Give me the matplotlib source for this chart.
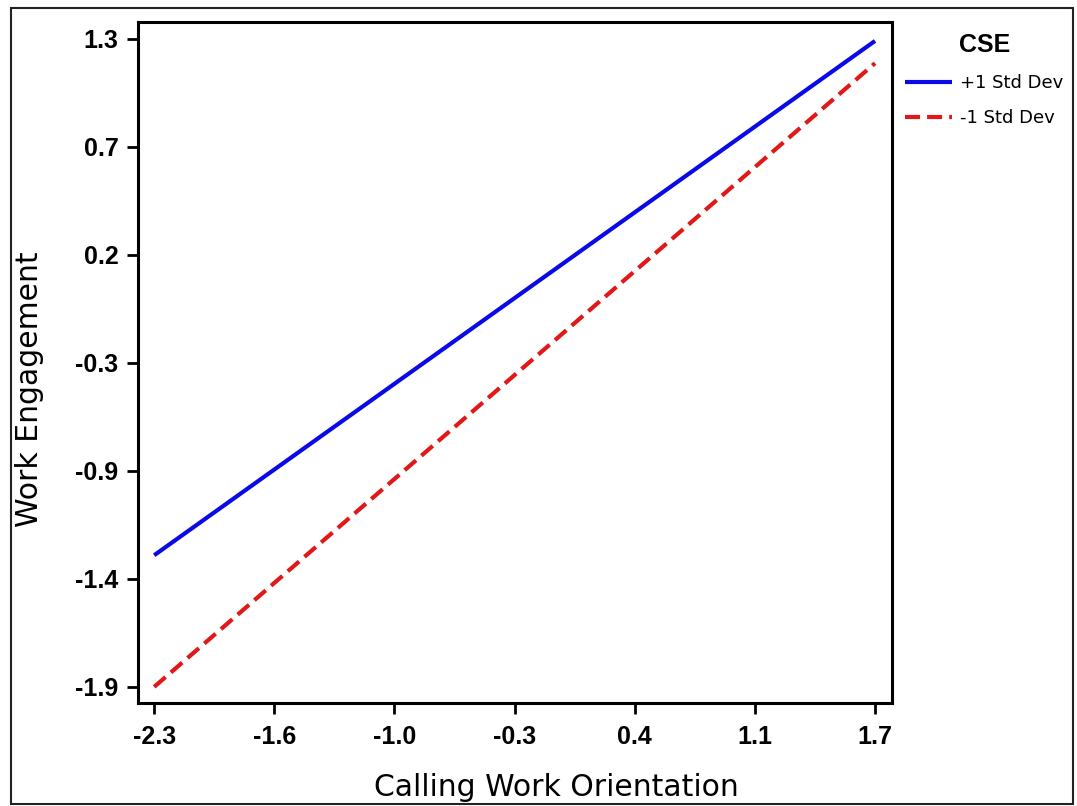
import numpy as np
import matplotlib
matplotlib.use('Agg')
import matplotlib.pyplot as plt
from matplotlib.patches import Rectangle
from matplotlib.font_manager import FontProperties

# data
x_range = [-2.3, 1.7]
plus_sd = [-1.25, 1.29]
minus_sd = [-1.90, 1.18]
series_labels = ['+1 Std Dev', '-1 Std Dev']
legend_title = 'CSE'

xtick_labels = ['-2.3', '-1.6', '-1.0', '-0.3', '0.4', '1.1', '1.7']
ytick_labels = ['1.3', '0.7', '0.2', '-0.3', '-0.9', '-1.4', '-1.9']

fig = plt.figure(figsize=(10.77, 8.06), dpi=100)
ax = fig.add_axes([0.1281, 0.1282, 0.7001, 0.8439])

ax.plot(x_range, plus_sd, color='#0a0ae6', lw=3, solid_capstyle='butt', label=series_labels[0])
ax.plot(x_range, minus_sd, color='#e01818', lw=3, linestyle=(0, (3.6, 1.7)),
        dash_capstyle='butt', label=series_labels[1])

ax.set_xlim(-2.39, 1.794)
ax.set_ylim(-1.978, 1.381)

xt = np.linspace(x_range[0], x_range[1], len(xtick_labels))
yt = np.linspace(1.3, -1.9, len(ytick_labels))
ax.set_xticks(xt)
ax.set_xticklabels(xtick_labels)
ax.set_yticks(yt)
ax.set_yticklabels(ytick_labels)

tick_fp = FontProperties(family=['Liberation Sans', 'DejaVu Sans'], weight='bold', size=18)
for lab in ax.get_xticklabels() + ax.get_yticklabels():
    lab.set_fontproperties(tick_fp)

ax.tick_params(direction='out', length=8, width=2, color='black')
ax.tick_params(axis='x', pad=8)
ax.tick_params(axis='y', pad=6)
for sp in ax.spines.values():
    sp.set_linewidth(2.2)
    sp.set_color('black')

fig.text(556 / 1077, 1 - 787 / 806, 'Calling Work Orientation', ha='center', va='center',
         fontsize=21.5, family='DejaVu Sans')
fig.text(30 / 1077, 1 - 389 / 806, 'Work Engagement', ha='center', va='center',
         rotation=90, fontsize=21.5, family='DejaVu Sans')

leg = fig.legend(loc='upper left', bbox_to_anchor=(0.834, 0.968), frameon=False,
                 title=legend_title, fontsize=13, handlelength=2.6, handletextpad=0.4,
                 labelspacing=0.95, borderaxespad=0)
leg.get_title().set_fontproperties(FontProperties(family=['Liberation Sans', 'DejaVu Sans'],
                                                  weight='bold', size=18))

# border around the whole picture
fig.patches.append(Rectangle((11 / 1077, 1 - 804 / 806), 1062 / 1077, 796 / 806,
                             transform=fig.transFigure, fill=False, edgecolor='#222222',
                             lw=1.5))

fig.savefig('out.png', dpi=100)
